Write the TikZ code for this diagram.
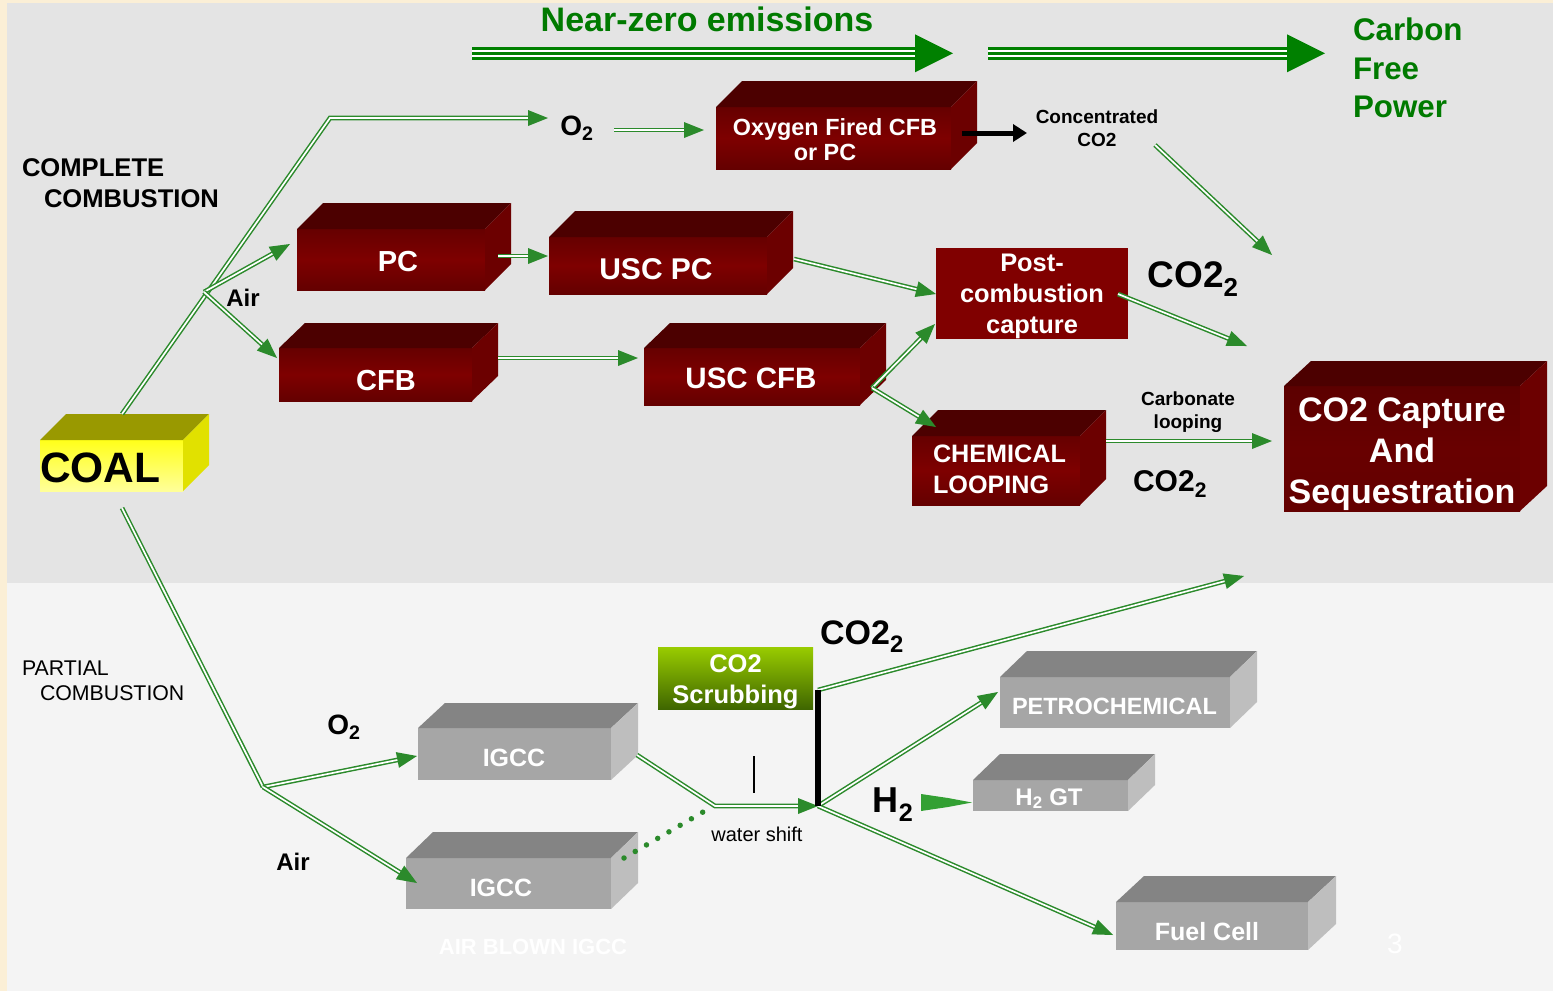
\documentclass[tikz,border=0pt]{standalone}
\usepackage{fontspec}
\setmainfont{Liberation Sans}
\usetikzlibrary{arrows.meta,calc}

\definecolor{bgup}{HTML}{E4E4E4}
\definecolor{bglow}{HTML}{F4F4F4}
\definecolor{cream}{HTML}{FBEFD6}
\definecolor{lg}{HTML}{2B8A2B}
\definecolor{dg}{HTML}{008000}
\definecolor{tg}{HTML}{007A00}
\definecolor{rtop}{HTML}{4C0000}
\definecolor{rside}{HTML}{6C0000}
\definecolor{rfa}{HTML}{660000}
\definecolor{rfb}{HTML}{7E0000}
\definecolor{rfc}{HTML}{640000}
\definecolor{pflat}{HTML}{800000}
\definecolor{cca}{HTML}{5C0000}
\definecolor{ccb}{HTML}{680000}
\definecolor{ccc}{HTML}{640000}
\definecolor{gfront}{HTML}{A6A6A6}
\definecolor{gtop}{HTML}{848484}
\definecolor{gside}{HTML}{BEBEBE}
\definecolor{ytop}{HTML}{999900}
\definecolor{yside}{HTML}{E1E100}
\definecolor{ya}{HTML}{FFFF1A}
\definecolor{yb}{HTML}{FFFF99}
\definecolor{sga}{HTML}{99CC00}
\definecolor{sgb}{HTML}{3F6600}
\definecolor{hg}{HTML}{33A033}

\newcommand{\fs}[2]{\fontsize{#1}{#2}\selectfont}
% 3D faces: name, dx, dy, top colour, side colour
\newcommand{\faces}[5]{%
  \fill[#4] (#1.north west) -- ++(#2,-#3) -- ($(#1.north east)+(#2,-#3)$) -- (#1.north east) -- cycle;
  \fill[#5] (#1.north east) -- ($(#1.north east)+(#2,-#3)$) -- ($(#1.south east)+(#2,-#3)$) -- (#1.south east) -- cycle;
}
\newcommand{\gtip}[2]{%
  \coordinate (tb) at ($(#2)!20pt!(#1)$);
  \fill[lg] (#2) -- ($(tb)!8pt!90:(#2)$) -- ($(tb)!8pt!-90:(#2)$) -- cycle;
}
\newcommand{\gar}[2]{%
  \draw[gline] (#1) -- ($(#2)!15pt!(#1)$);
  \gtip{#1}{#2}
}
\newcommand{\bigarrow}[2]{%
  \draw[dg, line width=13.3pt] (#1) -- ($(#2)+(-37,0)$);
  \draw[white, line width=1.7pt] ($(#1)+(0,-2.5)$) -- ($(#2)+(-37,-2.5)$);
  \draw[white, line width=1.7pt] ($(#1)+(0,2.5)$) -- ($(#2)+(-37,2.5)$);
  \fill[dg] (#2) -- ($(#2)+(-38,-19)$) -- ($(#2)+(-38,19)$) -- cycle;
}

\begin{document}
\begin{tikzpicture}[x=1pt,y=-1pt,
  every node/.style={inner sep=0pt,outer sep=0pt},
  redf/.style={rectangle, top color=rfa, bottom color=rfc, middle color=rfb},
  postf/.style={rectangle, fill=pflat},
  ccsf/.style={rectangle, top color=cca, bottom color=ccc, middle color=ccb},
  greyf/.style={rectangle, fill=gfront},
  yfront/.style={rectangle, top color=ya, bottom color=yb},
  scrf/.style={rectangle, top color=sga, bottom color=sgb},
  wt/.style={text=white},
  gline/.style={draw=lg, line width=1.5pt, double=white, double distance=1.7pt},
  blab/.style={text=black}
]
\useasboundingbox (0,0) rectangle (1553,991);
% background
\fill[bgup] (0,0) rectangle (1553,583);
\fill[bglow] (0,583) rectangle (1553,991);
\fill[cream] (0,0) rectangle (7,991);
\fill[cream] (0,0) rectangle (1553,2.5);

% top banner
\node[text=tg, font=\bfseries\fs{34}{40}] (title) at (707,19) {Near-zero emissions};
\coordinate (na1) at (472,53.3); \coordinate (na2) at (953,53.3);
\coordinate (nb1) at (988,53.3); \coordinate (nb2) at (1325,53.3);
\bigarrow{na1}{na2}
\bigarrow{nb1}{nb2}
\node[anchor=west, align=left, text=tg, font=\bfseries\fs{31.3}{38.5}] (cfp) at (1353,68) {Carbon\\Free\\Power};

% side labels
\node[anchor=west, align=left, font=\bfseries\fs{25.6}{31}] (cc) at (22,183.5) {COMPLETE\\\hspace*{22pt}COMBUSTION};
\node[anchor=west, align=left, font=\fs{21.3}{25.5}] (pcb) at (22,681) {PARTIAL\\\hspace*{18pt}COMBUSTION};

% boxes - upper
\node[yfront, minimum width=143pt, minimum height=51pt] (coal) at (111.5,465.5) {};
\faces{coal}{26}{26}{ytop}{yside}
\node[anchor=west, blab, font=\bfseries\fs{42.5}{42}] (coalT) at (40,467.5) {COAL};

\node[redf, minimum width=235pt, minimum height=62pt] (oxy) at (833.5,138) {};
\faces{oxy}{26}{26}{rtop}{rside}
\node[wt, align=center, font=\bfseries\fs{23.4}{25}] (oxyT) at ($(oxy.center)+(1.5,2)$) {Oxygen Fired CFB\\or PC\hspace*{20pt}};

\node[redf, minimum width=188pt, minimum height=61pt] (pc) at (391,259.5) {};
\faces{pc}{26}{26}{rtop}{rside}
\node[wt, font=\bfseries\fs{29}{35}] (pcT) at (398,262) {PC};

\node[redf, minimum width=218pt, minimum height=57pt] (uscpc) at (658,265.5) {};
\faces{uscpc}{26}{26}{rtop}{rside}
\node[wt, font=\bfseries\fs{30}{36}] (uscpcT) at (656,269) {USC PC};

\node[redf, minimum width=193pt, minimum height=53pt] (cfb) at (375.5,374.5) {};
\faces{cfb}{26}{25}{rtop}{rside}
\node[wt, font=\bfseries\fs{29}{35}] (cfbT) at (386,381) {CFB};

\node[redf, minimum width=216pt, minimum height=57pt] (usccfb) at (752,376.5) {};
\faces{usccfb}{26}{25}{rtop}{rside}
\node[wt, font=\bfseries\fs{29.5}{35}] (usccfbT) at (751,378.5) {USC CFB};

\node[postf, minimum width=192pt, minimum height=91pt] (post) at (1032,293.5) {};
\node[wt, align=center, font=\bfseries\fs{25.4}{31}] (postT) at (1032,296.5) {Post-\\combustion\\capture};

\node[redf, minimum width=168pt, minimum height=69pt] (chem) at (996,470.5) {};
\faces{chem}{26}{26}{rtop}{rside}
\node[anchor=west, align=left, wt, font=\bfseries\fs{25.2}{31}] (chemT) at (933,469) {CHEMICAL\\LOOPING};

\node[ccsf, minimum width=236pt, minimum height=125pt] (ccs) at (1402,448.5) {};
\faces{ccs}{27}{25}{rtop}{rside}
\node[wt, align=center, font=\bfseries\fs{34}{41}] (ccsT) at (1402,454.5) {CO2 Capture\\And\\Sequestration};

% boxes - lower
\node[greyf, minimum width=193pt, minimum height=52pt] (igccA) at (514.5,754) {};
\faces{igccA}{27}{25}{gtop}{gside}
\node[wt, font=\bfseries\fs{25}{30}] (igccAT) at (514,758) {IGCC};

\node[greyf, minimum width=205pt, minimum height=51pt] (igccB) at (508.5,883.5) {};
\faces{igccB}{27}{26}{gtop}{gside}
\node[wt, font=\bfseries\fs{25}{30}] (igccBT) at (501,888) {IGCC};

\node[greyf, minimum width=230pt, minimum height=51pt] (petro) at (1115,702.5) {};
\faces{petro}{27}{26}{gtop}{gside}
\node[wt, font=\bfseries\fs{23.5}{26}] (petroT) at (1114.5,706) {PETROCHEMICAL};

\node[greyf, minimum width=155pt, minimum height=31pt] (h2gt) at (1050.5,795.5) {};
\faces{h2gt}{27}{26}{gtop}{gside}
\node[wt, font=\bfseries\fs{24}{28}] (h2gtT) at (1049,798.5) {H\textsubscript{2} GT};

\node[greyf, minimum width=192pt, minimum height=48pt] (fuel) at (1212,926) {};
\faces{fuel}{28}{26}{gtop}{gside}
\node[wt, font=\bfseries\fs{25}{30}] (fuelT) at (1207,932) {Fuel Cell};

\node[scrf, minimum width=155pt, minimum height=62pt] (scr) at (735.5,678) {};
\node[wt, align=center, font=\bfseries\fs{25.5}{31}] (scrT) at (735.5,682) {CO2\\Scrubbing};

% labels
\node[blab, font=\bfseries\fs{24}{28}] (air1) at (243,298) {Air};
\node[blab, font=\bfseries\fs{28}{32}] (o2a) at (577,128) {O\textsubscript{2}};
\node[blab, align=center, font=\bfseries\fs{19}{23}] (conc) at (1097,128.5) {Concentrated\\CO2};
\node[blab, font=\bfseries\fs{37}{40}] (co2a) at (1193,279) {CO2\textsubscript{2}};
\node[blab, align=center, font=\bfseries\fs{19}{23}] (carb) at (1188,412.5) {Carbonate\\looping};
\node[blab, font=\bfseries\fs{30}{34}] (co2b) at (1170,484) {CO2\textsubscript{2}};
\node[blab, font=\bfseries\fs{34}{38}] (co2c) at (862,637) {CO2\textsubscript{2}};
\node[blab, font=\bfseries\fs{28}{32}] (o2b) at (344,727) {O\textsubscript{2}};
\node[blab, font=\bfseries\fs{24}{28}] (air2) at (293,862) {Air};
\node[blab, font=\bfseries\fs{36}{40}] (h2) at (893,805) {H\textsubscript{2}};
\node[blab, font=\fs{20}{24}] (ws) at (757,834) {water shift};
\node[text=white, font=\bfseries\fs{22}{26}] (abi) at (533,947) {AIR BLOWN IGCC};
\node[text=white, font=\fs{28}{32}] (pgno) at (1395,944) {3};

% connector coordinates
\coordinate (coalTop) at (122,414);
\coordinate (k1) at (330,118);
\coordinate (o2in) at (548,118);
\coordinate (airJ) at (204,292);
\coordinate (pcIn) at (290,244);
\coordinate (cfbIn) at (277,358);
\coordinate (o2out) at (614,130);
\coordinate (oxyIn) at (704,130);
\coordinate (pcOut) at (498,256);
\coordinate (uscpcIn) at (548,256);
\coordinate (uscpcOut) at (794,259);
\coordinate (postIn1) at (936,294);
\coordinate (cfbOut) at (498,358);
\coordinate (usccfbIn) at (638,358);
\coordinate (cfbJ) at (872,388);
\coordinate (postIn2) at (935,324);
\coordinate (chemIn) at (936,427);
\coordinate (concOut) at (1155,145);
\coordinate (ccsIn1) at (1272,255);
\coordinate (postOut) at (1118,294);
\coordinate (ccsIn2) at (1247,346);
\coordinate (chemOut) at (1106,441);
\coordinate (ccsIn3) at (1272,441);
\coordinate (oxyOut) at (962,133);
\coordinate (concIn) at (1027,133);
\coordinate (coalBot) at (122,508);
\coordinate (pJ) at (263,787);
\coordinate (igccAIn) at (417,756);
\coordinate (igccBIn) at (417,883);
\coordinate (igccAOut) at (637,755);
\coordinate (wsK) at (715,806);
\coordinate (wsJ) at (818,806);
\coordinate (dotA) at (624,858);
\coordinate (dotB) at (703,812);
\coordinate (tl1) at (754,756);
\coordinate (tl2) at (754,793);
\coordinate (scrJ) at (818,690);
\coordinate (ccsIn4) at (1244,576);
\coordinate (petroIn) at (998,692);
\coordinate (fuelIn) at (1113,935);

% connectors upper
\draw[gline] (coalTop) -- (k1) -- ($(o2in)!15pt!(k1)$);
\gtip{k1}{o2in}
\gar{airJ}{pcIn}
\gar{airJ}{cfbIn}
\gar{o2out}{oxyIn}
\gar{pcOut}{uscpcIn}
\gar{uscpcOut}{postIn1}
\gar{cfbOut}{usccfbIn}
\gar{cfbJ}{postIn2}
\gar{cfbJ}{chemIn}
\gar{concOut}{ccsIn1}
\gar{postOut}{ccsIn2}
\gar{chemOut}{ccsIn3}
\draw[black, line width=5pt, -{Triangle[length=14pt,width=17pt]}] (oxyOut) -- (concIn);

% connectors lower
\draw[gline] (coalBot) -- (pJ);
\gar{pJ}{igccAIn}
\gar{pJ}{igccBIn}
\draw[gline] (igccAOut) -- (wsK) -- ($(wsJ)!15pt!(wsK)$);
\gtip{wsK}{wsJ}
\draw[lg, line width=5.5pt, line cap=round, dash pattern=on 0pt off 13pt] (dotA) -- (dotB);
\draw[black, line width=1.3pt] (tl1) -- (tl2);
\gar{scrJ}{ccsIn4}
\gar{wsJ}{petroIn}
\gar{wsJ}{fuelIn}
\draw[black, line width=6pt] (scrJ) -- (wsJ);
\fill[hg] (921,794) -- (948,798) -- (972,802.5) -- (948,807) -- (921,811) -- cycle;
\end{tikzpicture}
\end{document}
